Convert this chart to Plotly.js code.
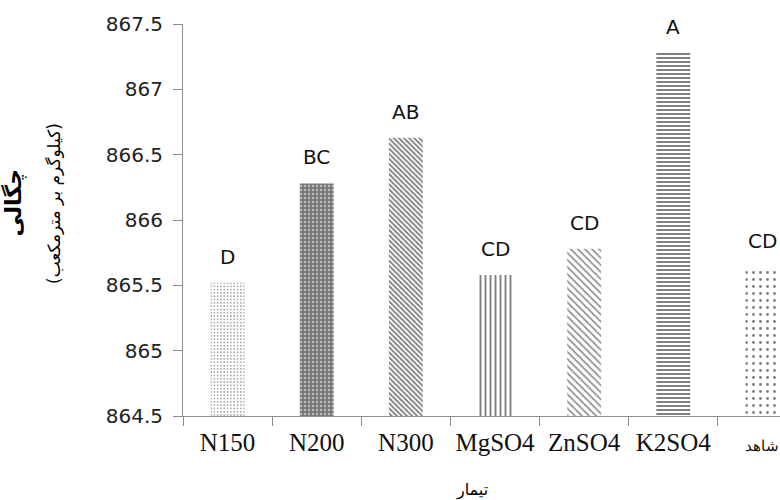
<!DOCTYPE html>
<html>
<head>
<meta charset="utf-8">
<script src="https://cdn.plot.ly/plotly-3.0.1.min.js"></script>
<style>
html,body{margin:0;padding:0;overflow:hidden;background:#fff;width:780px;height:500px;}
#chart{width:830px;height:500px;}
</style>
</head>
<body>
<div id="chart"></div>
<script>
var categories = ["N150", "N200", "N300", "MgSO4", "ZnSO4", "K2SO4", "شاهد"];
var density = [865.52, 866.28, 866.63, 865.58, 865.78, 867.28, 865.64];
var groupLetters = ["D", "BC", "AB", "CD", "CD", "A", "CD"];
var xTickLabels = ["N150", "N200", "N300", "MgSO4", "ZnSO4", "K2SO4", "<span style=\"font-size:15px\">شاهد</span>"];
var yTicks = [864.5, 865, 865.5, 866, 866.5, 867, 867.5];
var yTickLabels = ["864.5", "865", "865.5", "866", "866.5", "867", "867.5"];
var yBase = 864.5;

var patternShapes = [".", ".", "\\", "|", "\\", "-", "."];
var patternSizes = [3.3, 4, 3.6, 5, 5, 4, 7];
var patternSolidity = [0.22, 0.3, 0.5, 0.38, 0.32, 0.5, 0.13];
var patternBg = ["#ffffff", "#777777", "#ffffff", "#ffffff", "#ffffff", "#ffffff", "#ffffff"];
var patternFg = ["#333333", "#ffffff", "#000000", "#000000", "#111111", "#000000", "#000000"];

var bar = {
  type: "bar",
  x: categories,
  y: density.map(function(v){ return v - yBase; }),
  base: 0,
  marker: {
    color: "#ffffff",
    line: {width: 0},
    pattern: {
      shape: patternShapes,
      size: patternSizes,
      solidity: patternSolidity,
      fgcolor: patternFg,
      bgcolor: patternBg,
      fillmode: "overlay"
    }
  },
  hoverinfo: "none"
};

var annotations = categories.map(function(c, i){
  return {
    x: c, y: density[i] - yBase, xref: "x", yref: "y",
    text: groupLetters[i], showarrow: false,
    yanchor: "middle", yshift: 26,
    font: {family: "DejaVu Sans", size: 20, color: "#111"}
  };
});
annotations.push({
  xref: "paper", yref: "paper", x: -0.272, y: 0.543,
  text: "<b>چگالی</b>", showarrow: false, textangle: -90,
  xanchor: "center", yanchor: "middle",
  font: {family: "DejaVu Sans", size: 22, color: "#000"}
});
annotations.push({
  xref: "paper", yref: "paper", x: -0.207, y: 0.543,
  text: "(کیلوگرم بر مترمکعب)", showarrow: false, textangle: -90,
  xanchor: "center", yanchor: "middle",
  font: {family: "DejaVu Sans", size: 17, color: "#000"}
});
annotations.push({
  xref: "paper", yref: "paper", x: 0.463, y: -0.188,
  text: "تیمار", showarrow: false,
  xanchor: "center", yanchor: "middle",
  font: {family: "DejaVu Sans", size: 16, color: "#000"}
});

var layout = {
  width: 830, height: 500,
  margin: {l: 183, r: 23, t: 24, b: 84},
  paper_bgcolor: "#ffffff", plot_bgcolor: "#ffffff",
  showlegend: false,
  bargap: 0.62,
  xaxis: {
    type: "category",
    tickvals: categories,
    ticktext: xTickLabels,
    showline: true, linecolor: "#8c8c8c", linewidth: 1,
    ticks: "outside", tickson: "boundaries", ticklen: 9, tickcolor: "#8c8c8c",
    showgrid: false, zeroline: false,
    tickfont: {family: "Liberation Serif", size: 25, color: "#111"},
    ticklabelstandoff: 4
  },
  yaxis: {
    range: [0, 3],
    tickvals: yTicks.map(function(v){ return v - yBase; }),
    ticktext: yTickLabels,
    showline: true, linecolor: "#8c8c8c", linewidth: 1,
    ticks: "outside", ticklen: 9, tickcolor: "#8c8c8c",
    showgrid: false, zeroline: false,
    tickfont: {family: "DejaVu Sans", size: 20, color: "#222"},
    ticklabelstandoff: 6
  },
  annotations: annotations
};

Plotly.newPlot("chart", [bar], layout, {staticPlot: true, displayModeBar: false});
</script>
</body>
</html>
